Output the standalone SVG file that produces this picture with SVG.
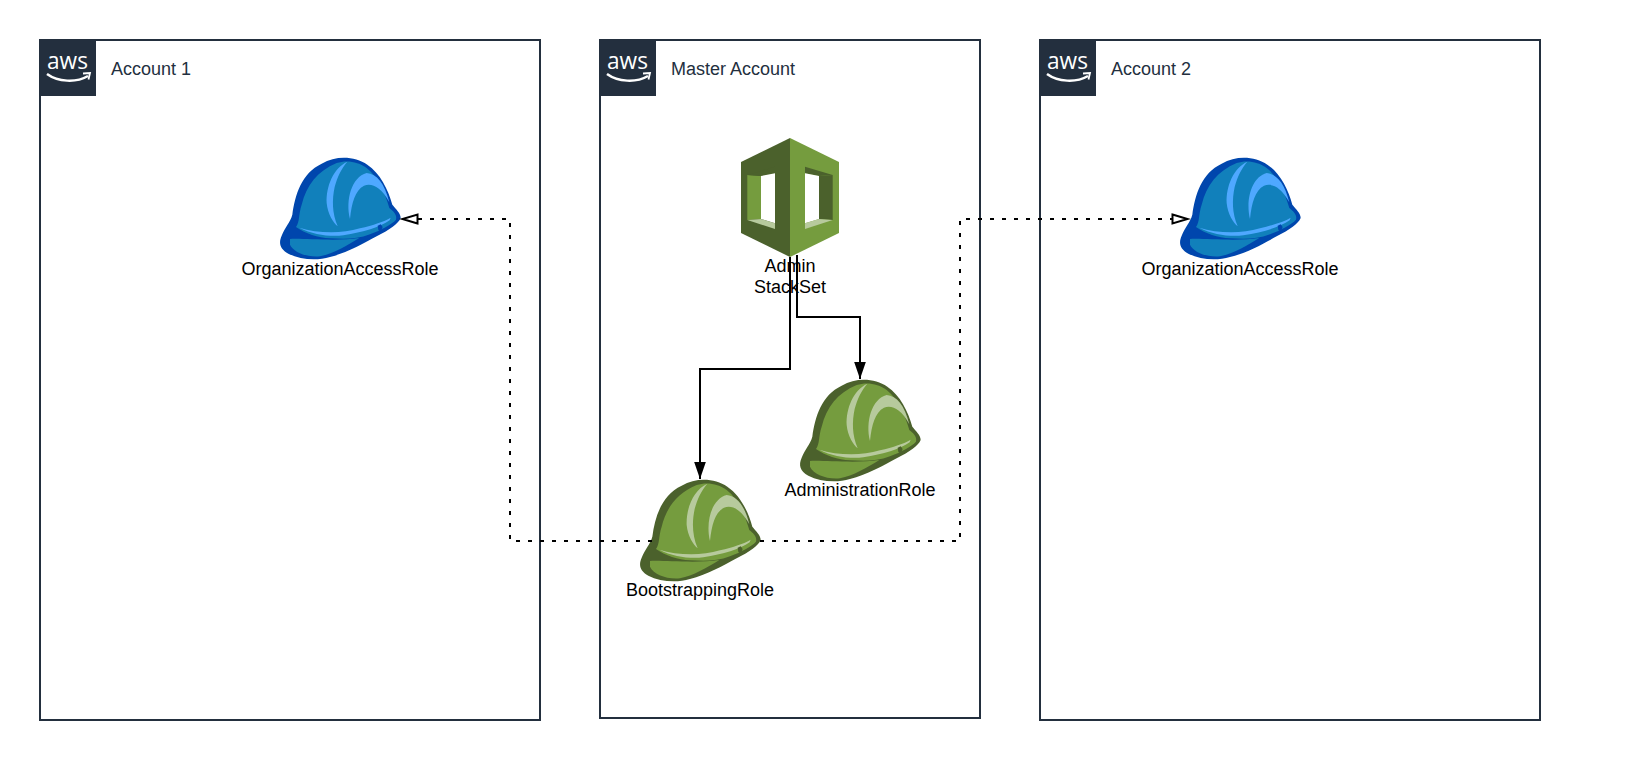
<svg xmlns="http://www.w3.org/2000/svg" xmlns:xlink="http://www.w3.org/1999/xlink" width="1651" height="760" viewBox="0 0 1651 760">
<style>
text{font-family:"Liberation Sans",Arial,sans-serif}
.box{fill:#fff;stroke:#232f3e;stroke-width:2}
.acc{font-size:18px;fill:#232f3e}
.lbl{font-size:18px;fill:#000;text-anchor:middle}
.solid{fill:none;stroke:#000;stroke-width:2}
.dot{fill:none;stroke:#000;stroke-width:2;stroke-dasharray:4 8}
.awsbg{fill:#232f3e}
.awst{font-family:"Open Sans","Liberation Sans",sans-serif;font-size:24px;fill:#fff;text-anchor:middle}
.blue{--o:#0046ad;--m:#1180bb;--l:#4fa8ff}
.green{--o:#4b612c;--m:#759c3e;--l:#b7ca9d}
.o{fill:var(--o)}.m{fill:var(--m)}.l{fill:var(--l)}
</style>
<defs>
<g id="hat" transform="scale(.3333) translate(-150,-55)">
<path class="o" d="M512 235C505 252 480 270 440 290C400 312 350 340 300 352C260 364 210 360 175 342C150 328 145 310 155 288C165 262 180 250 187 225C195 165 215 100 275 72C320 46 375 50 412 75C450 100 475 150 487 195C497 208 512 220 512 235Z"/>
<path class="m" d="M198 262C210 245 205 225 215 195C230 135 262 95 320 70C350 60 385 66 410 85C445 112 465 160 478 205C490 215 502 225 498 240C485 255 450 272 420 284C380 300 340 298 300 296C265 294 225 282 198 262Z"/>
<path class="m" d="M180 298C215 295 320 306 388 295C350 318 310 342 270 350C230 354 190 337 180 315Z"/>
<path class="l" d="M352 66C310 85 288 140 290 190C293 222 310 250 323 260C306 220 306 180 314 142C322 112 335 85 352 66Z"/>
<path class="l" d="M360 238C346 180 365 112 410 100C440 103 464 130 478 188C452 140 425 130 402 138C375 152 365 190 360 238Z"/>
<path class="l" d="M208 264C260 280 330 284 390 266C430 256 462 246 482 234L479 242C450 262 400 278 340 287C300 292 250 285 208 264Z"/>
<path class="o" d="M443 258L452 254L458 262L452 276L445 270Z"/>
</g>
<g id="awslogo">
<rect class="awsbg" x="0" y="0" width="56" height="56"/>
<text class="awst" x="27.500" y="29" textLength="41" lengthAdjust="spacingAndGlyphs">aws</text>
<path d="M7 34C18 42 36 43 48 36" fill="none" stroke="#fff" stroke-width="2.500"/>
<path d="M43 33.500L50 33L48.500 39.500" fill="none" stroke="#fff" stroke-width="1.800"/>
</g>
<marker id="fill" markerUnits="userSpaceOnUse" markerWidth="18" markerHeight="14" refX="17.500" refY="6.500" orient="auto"><path d="M0 0.500L17.500 6.500L0 12.500Z" fill="#000"/></marker>
<marker id="open" markerUnits="userSpaceOnUse" markerWidth="20" markerHeight="14" refX="18" refY="7" orient="auto"><path d="M1.500 2.500L16.500 7L1.500 11.500Z" fill="#fff" stroke="#000" stroke-width="2"/></marker>
</defs>
<rect width="1651" height="760" fill="#fff"/>
<g id="account-1"><rect class="box" x="40" y="40" width="500" height="680"/><use xlink:href="#awslogo" href="#awslogo" x="40" y="40"/><text class="acc" x="111" y="75">Account 1</text></g>
<g id="master-account"><rect class="box" x="600" y="40" width="380" height="678"/><use xlink:href="#awslogo" href="#awslogo" x="600" y="40"/><text class="acc" x="671" y="75">Master Account</text></g>
<g id="account-2"><rect class="box" x="1040" y="40" width="500" height="680"/><use xlink:href="#awslogo" href="#awslogo" x="1040" y="40"/><text class="acc" x="1111" y="75">Account 2</text></g>
<g id="org-role-1" class="blue"><use xlink:href="#hat" href="#hat" x="280" y="158"/><text class="lbl" x="340" y="275">OrganizationAccessRole</text></g>
<g id="org-role-2" class="blue"><use xlink:href="#hat" href="#hat" x="1180" y="158"/><text class="lbl" x="1240" y="275">OrganizationAccessRole</text></g>
<g id="admin-role" class="green"><use xlink:href="#hat" href="#hat" x="800" y="380"/><text class="lbl" x="860" y="496">AdministrationRole</text></g>
<g id="bootstrap-role" class="green"><use xlink:href="#hat" href="#hat" x="640" y="480"/><text class="lbl" x="700" y="596">BootstrappingRole</text></g>
<g id="admin-stackset">
<path d="M790 138L741 162V233L790 257Z" fill="#4b612c"/>
<path d="M790 138L839 162V233L790 257Z" fill="#759c3e"/>
<path d="M747.300 175L761 176V219L747.300 220Z" fill="#759c3e"/>
<path d="M747.300 175L775 166.700V173.300L761 176Z" fill="#4b612c"/>
<path d="M761 176L775 173.300V223.300L761 219Z" fill="#fff"/>
<path d="M747.300 220L761 219L775 223.300V229Z" fill="#b7ca9d"/>
<path d="M832.700 175L819 176V219L832.700 220Z" fill="#4b612c"/>
<path d="M832.700 175L805 166.700V173.300L819 176Z" fill="#4b612c"/>
<path d="M819 176L805 173.300V223.300L819 219Z" fill="#fff"/>
<path d="M832.700 220L819 219L805 223.300V229Z" fill="#b7ca9d"/>
<text class="lbl" x="790" y="272">Admin</text><text class="lbl" x="790" y="293">StackSet</text>
</g>
<g id="connectors">
<path class="solid" marker-end="url(#fill)" d="M790 257V369H700V479"/>
<path class="solid" marker-end="url(#fill)" d="M797 255V317H860V379"/>
<path class="dot" marker-end="url(#open)" d="M652 541H510V219H401"/>
<path class="dot" marker-end="url(#open)" d="M760 541H960V219H1189"/>
</g>
</svg>
